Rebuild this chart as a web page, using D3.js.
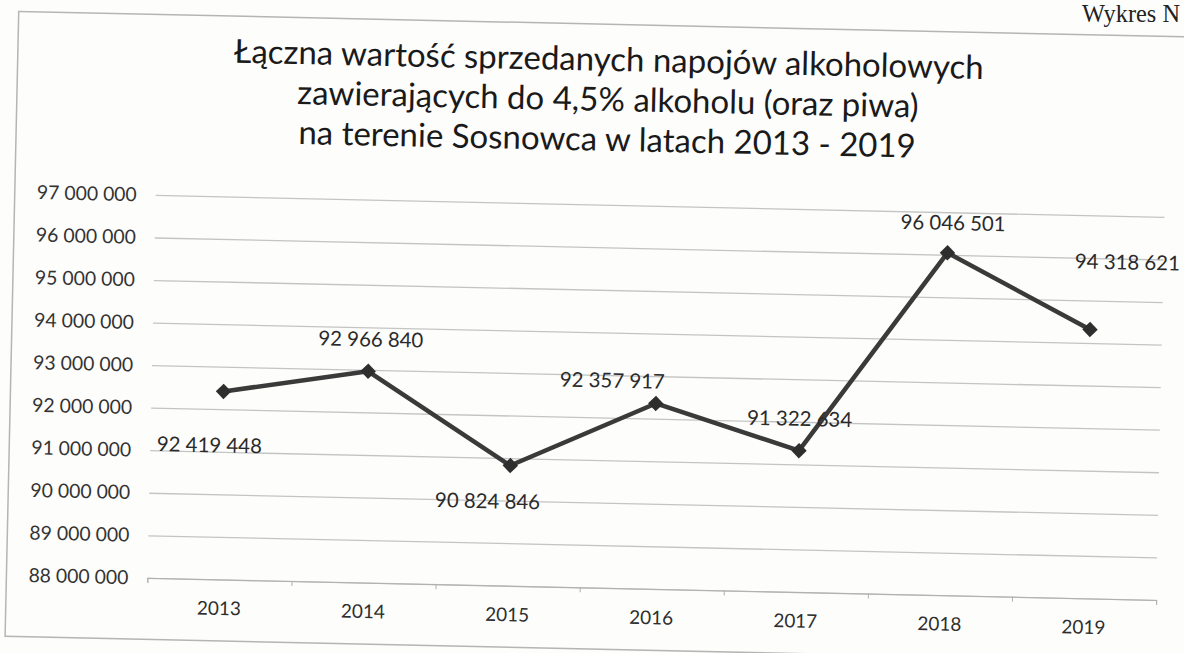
<!DOCTYPE html>
<html>
<head>
<meta charset="utf-8">
<script src="https://cdn.jsdelivr.net/npm/d3@7/dist/d3.min.js"></script>
<style>
  body { margin: 0; background: #fdfdfc; }
  svg { display: block; }
</style>
</head>
<body>
<svg id="chart"></svg>
<script>
// dane
const years = ["2013", "2014", "2015", "2016", "2017", "2018", "2019"];
const values = [92419448, 92966840, 90824846, 92357917, 91322634, 96046501, 94318621];
const yTicks = [88000000, 89000000, 90000000, 91000000, 92000000, 93000000, 94000000, 95000000, 96000000, 97000000];
const titleLines = [
  "Łączna wartość sprzedanych napojów alkoholowych",
  "zawierających do 4,5% alkoholu (oraz piwa)",
  "na terenie Sosnowca w latach 2013 - 2019"
];
const pageNote = "Wykres N";

// przesunięcie etykiet danych względem punktu (px) - ręcznie jak w oryginale
const labelOffsets = [[-13, 54], [2, -32], [-22, 36], [-44, -22], [0, -32], [5, -30], [36, -68]];

const width = 1184, height = 653;
const font = "Lato, 'Open Sans', sans-serif";

const pl = d3.formatLocale({ decimal: ",", thousands: " ", grouping: [3], currency: ["", " zł"] });
const fmt = pl.format(",");

const svg = d3.select("#chart").attr("width", width).attr("height", height);

// dobiera rozmiar czcionki tak, żeby tekst miał zadaną szerokość
function fitSize(text, target, family) {
  const t = svg.append("text").attr("font-family", family).attr("font-size", 100).text(text);
  const w = t.node().getComputedTextLength();
  t.remove();
  return 100 * target / w;
}

const titleSize = fitSize(titleLines[0], 750, font);
const tickSize = fitSize("97 000 000", 100, font);
const labelSize = fitSize("92 419 448", 105, font);
const yearSize = fitSize("2013", 44, font);
const noteSize = fitSize(pageNote, 98, "'Liberation Serif', serif");

svg.append("text")
  .attr("x", 1180).attr("y", 22)
  .attr("text-anchor", "end")
  .attr("font-family", "'Liberation Serif', serif")
  .attr("font-size", noteSize)
  .attr("fill", "#222")
  .text(pageNote);

// skan jest lekko przekrzywiony
const g = svg.append("g").attr("transform", "rotate(1.25,592,326)");

g.append("rect")
  .attr("x", 12).attr("y", 24)
  .attr("width", 1200).attr("height", 625)
  .attr("fill", "none")
  .attr("stroke", "#b5b5b5")
  .attr("stroke-width", 1.5);

g.selectAll("text.title")
  .data(titleLines)
  .enter()
  .append("text")
  .attr("class", "title")
  .attr("x", 603)
  .attr("y", (d, i) => 59 + i * 40)
  .attr("dy", "0.35em")
  .attr("text-anchor", "middle")
  .attr("font-family", font)
  .attr("font-size", titleSize)
  .attr("fill", "#1a1a1a")
  .text(d => d);

const x = d3.scaleBand().domain(years).range([153, 1162]);
const y = d3.scaleLinear().domain([88000000, 97000000]).range([587.5, 204.5]);

// siatka + opisy osi Y
const yAxis = g.append("g")
  .attr("transform", "translate(153,0)")
  .call(d3.axisLeft(y).tickValues(yTicks).tickFormat(fmt).tickSize(-(1162 - 153)).tickPadding(19));
yAxis.select(".domain").remove();
yAxis.selectAll(".tick line").attr("stroke", "#c4c4c4").attr("stroke-width", 1.3);
yAxis.selectAll(".tick text")
  .attr("font-family", font)
  .attr("font-size", tickSize)
  .attr("fill", "#333");

// znaczniki osi X między kategoriami
const xb = d3.scaleLinear().domain([0, years.length]).range([153, 1162]);
const xTicks = g.append("g")
  .attr("transform", "translate(0," + y(88000000) + ")")
  .call(d3.axisBottom(xb).ticks(years.length).tickFormat("").tickSize(5));
xTicks.select(".domain").attr("stroke", "#b0b0b0");
xTicks.selectAll(".tick line").attr("stroke", "#b0b0b0");

const xAxis = g.append("g")
  .attr("transform", "translate(0," + y(88000000) + ")")
  .call(d3.axisBottom(x).tickSize(0).tickPadding(22));
xAxis.select(".domain").remove();
xAxis.selectAll(".tick text")
  .attr("font-family", font)
  .attr("font-size", yearSize)
  .attr("fill", "#2e2e2e");

const pts = years.map((yr, i) => ({ year: yr, value: values[i], off: labelOffsets[i] }));
const cx = d => x(d.year) + x.bandwidth() / 2;

const line = d3.line().x(cx).y(d => y(d.value));

g.append("path")
  .datum(pts)
  .attr("d", line)
  .attr("fill", "none")
  .attr("stroke", "#3a3a3a")
  .attr("stroke-width", 4.5)
  .attr("stroke-linejoin", "round");

g.selectAll("path.marker")
  .data(pts)
  .enter()
  .append("path")
  .attr("class", "marker")
  .attr("d", d3.symbol(d3.symbolSquare, 120))
  .attr("transform", d => "translate(" + cx(d) + "," + y(d.value) + ") rotate(45)")
  .attr("fill", "#2e2e2e");

g.selectAll("text.lbl")
  .data(pts)
  .enter()
  .append("text")
  .attr("class", "lbl")
  .attr("x", d => cx(d) + d.off[0])
  .attr("y", d => y(d.value) + d.off[1])
  .attr("dy", "0.35em")
  .attr("text-anchor", "middle")
  .attr("font-family", font)
  .attr("font-size", labelSize)
  .attr("fill", "#2a2a2a")
  .text(d => fmt(d.value));
</script>
</body>
</html>
